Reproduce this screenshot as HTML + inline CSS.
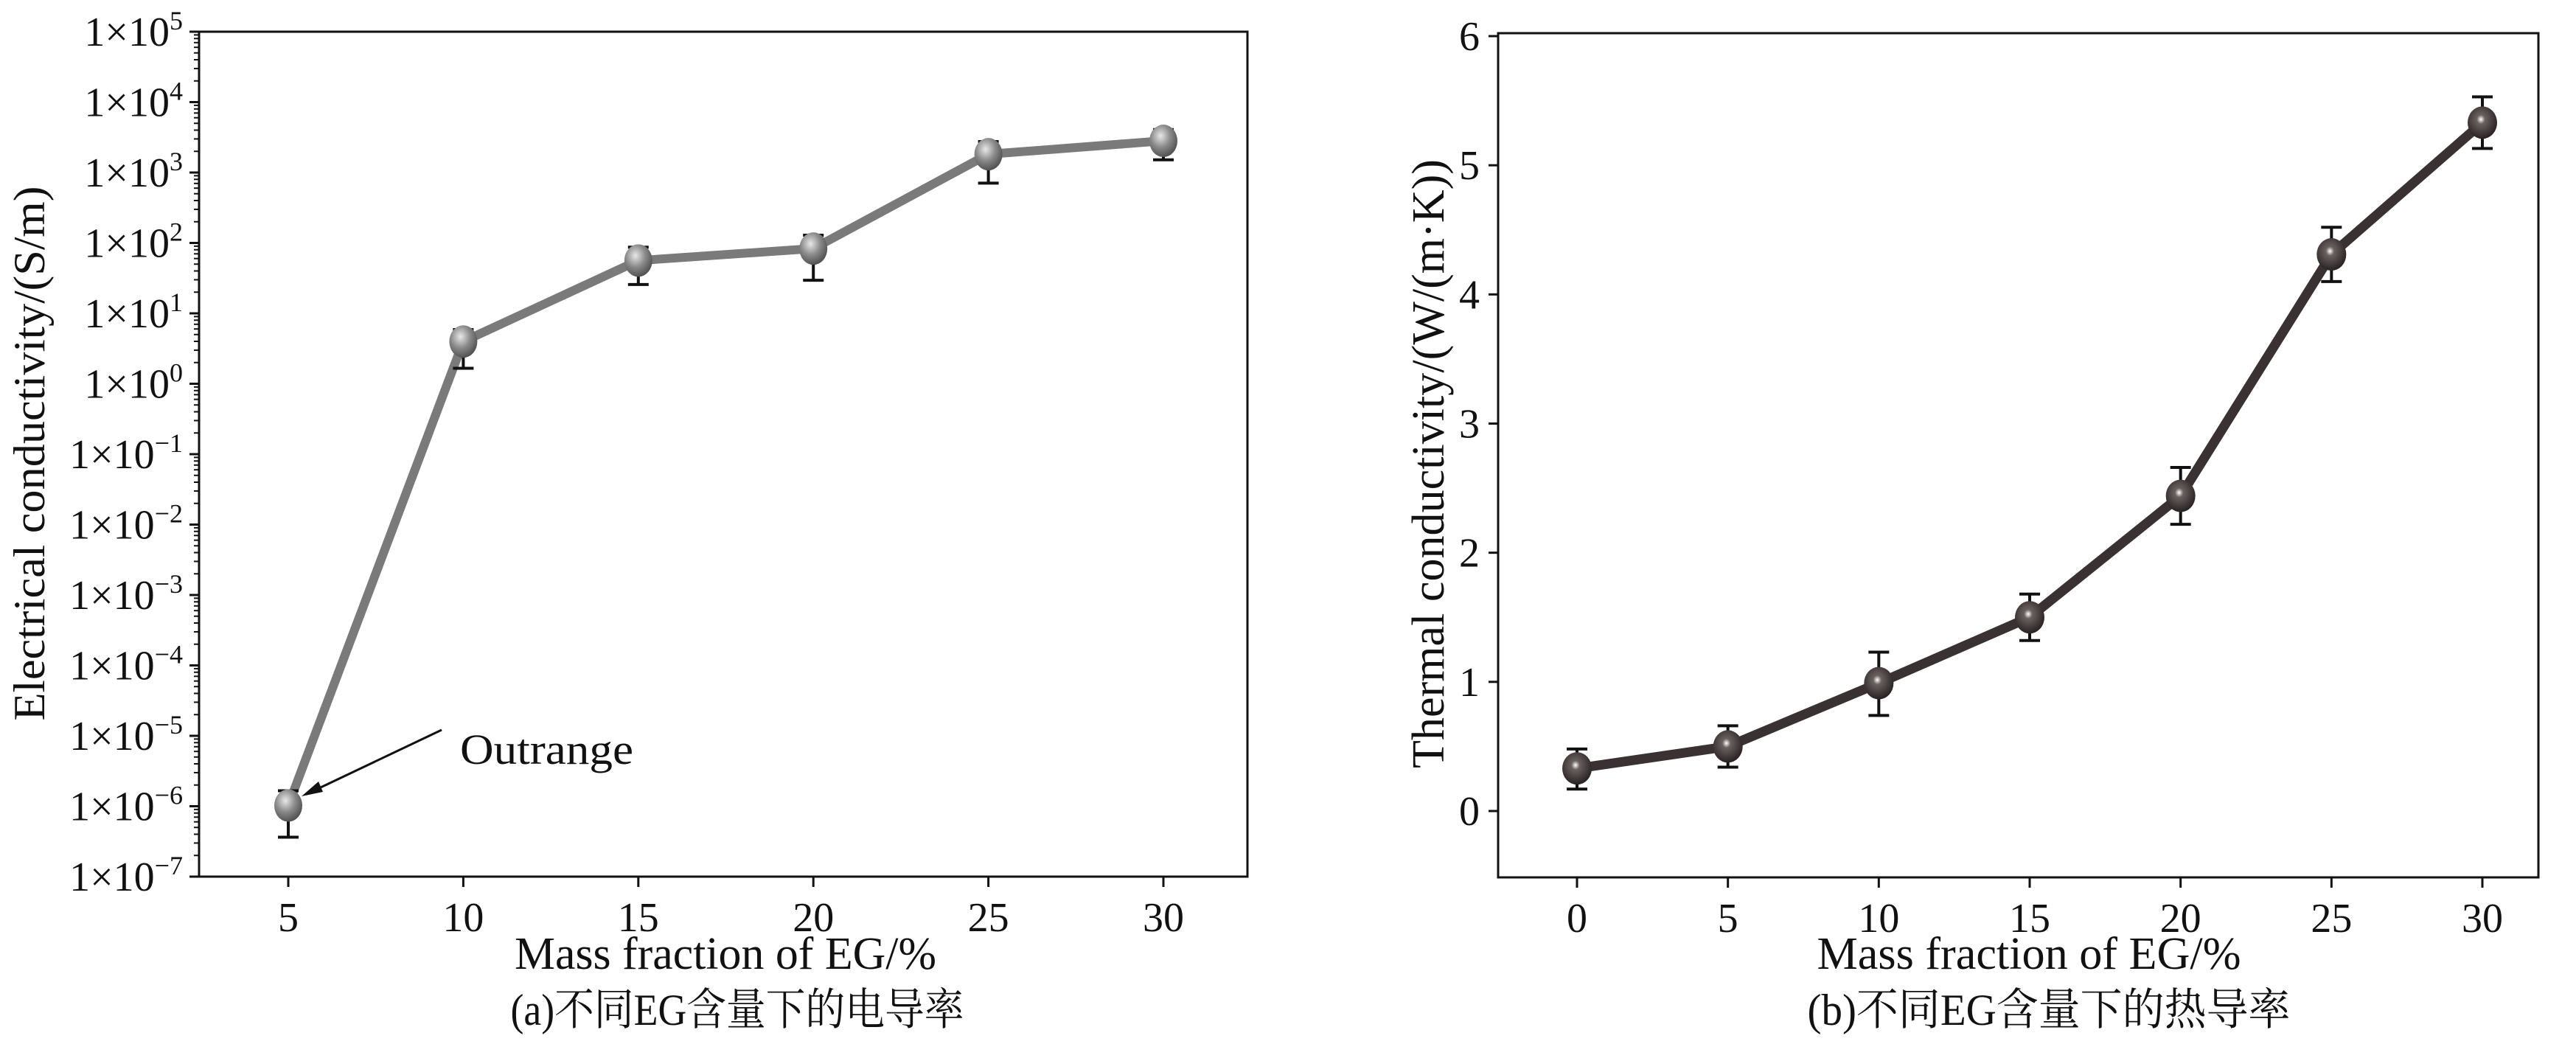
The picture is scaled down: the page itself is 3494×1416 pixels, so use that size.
<!DOCTYPE html>
<html><head><meta charset="utf-8"><style>
html,body{margin:0;padding:0;background:#fff;}
svg text{font-family:"Liberation Serif","Noto Serif CJK SC",serif;fill:#111;}
</style></head><body>
<svg id="fig" width="3494" height="1411" viewBox="0 0 3494 1411" xmlns="http://www.w3.org/2000/svg">
<defs>
<radialGradient id="gGray" cx="0.4" cy="0.35" r="0.7"><stop offset="0" stop-color="#e8e8e8"/><stop offset="0.5" stop-color="#8a8a8a"/><stop offset="1" stop-color="#4a4a4a"/></radialGradient>
<radialGradient id="gDark" cx="0.45" cy="0.4" r="0.7"><stop offset="0" stop-color="#ffffff"/><stop offset="0.2" stop-color="#6a6060"/><stop offset="1" stop-color="#1a1414"/></radialGradient>
</defs>
<g id="plotA"></g>
<g id="plotB"></g>
</svg>
<script>
// Chart (a) data: log10 values
const catsA=[5,10,15,20,25,30];
const logValA=[-5.99,0.6,1.75,1.92,3.26,3.45];
const logHiA=[-5.78,0.77,1.94,2.11,3.44,3.61];
const logLoA=[-6.44,0.22,1.41,1.47,2.85,3.18];
const yExpA=[5,4,3,2,1,0,-1,-2,-3,-4,-5,-6,-7];
// Chart (b) data
const catsB=[0,5,10,15,20,25,30];
const valB=[0.33,0.5,0.99,1.5,2.44,4.31,5.33];
const hiB=[0.48,0.66,1.23,1.68,2.66,4.52,5.53];
const loB=[0.17,0.34,0.74,1.32,2.22,4.10,5.13];
const yTicksB=[0,1,2,3,4,5,6];

const NS="http://www.w3.org/2000/svg";
function mk(parent,tag,attrs,txt){const e=document.createElementNS(NS,tag);for(const k in attrs)e.setAttribute(k,attrs[k]);if(txt!==undefined)e.textContent=txt;parent.appendChild(e);return e;}

// ---------- Plot A ----------
(function(){
const g=document.getElementById('plotA');
const L=270,R=1692,T=43,B=1189;
const xA=v=>391+(v-5)*(1578-391)/25;
const yA=v=>T+(5-v)*(B-T)/12;
let e=mk(g,'rect',{x:L,y:T,width:R-L,height:B-T,fill:'none',stroke:'#111','stroke-width':3});

for(let d=-7;d<=5;d++){
  mk(g,'line',{x1:L-13,x2:L,y1:yA(d),y2:yA(d),stroke:'#111','stroke-width':3});
  if(d<5)for(let m=2;m<=9;m++){const yy=yA(d+Math.log10(m));mk(g,'line',{x1:L-7,x2:L,y1:yy,y2:yy,stroke:'#111','stroke-width':2});}
}
yExpA.forEach(p=>{
  const t=mk(g,'text',{x:L-22,y:yA(p)+19,'text-anchor':'end','font-size':56});
  
  t.textContent='1×10';
  mk(t,'tspan',{dy:-22,'font-size':36},String(p).replace('-','−'));
});
catsA.forEach(c=>{
  mk(g,'line',{x1:xA(c),x2:xA(c),y1:B,y2:B+14,stroke:'#111','stroke-width':3});
  const t=mk(g,'text',{x:xA(c),y:B+74,'text-anchor':'middle','font-size':56},String(c));
  
});
let pts=catsA.map((c,i)=>xA(c)+','+yA(logValA[i])).join(' ');
e=mk(g,'polyline',{points:pts,fill:'none',stroke:'#7a7a7a','stroke-width':12,'stroke-linejoin':'round'});

catsA.forEach((c,i)=>{
  const x=xA(c);
  e=mk(g,'path',{d:`M${x},${yA(logHiA[i])}V${yA(logLoA[i])}M${x-14},${yA(logHiA[i])}H${x+14}M${x-14},${yA(logLoA[i])}H${x+14}`,stroke:'#111','stroke-width':4,fill:'none'});
  
  e=mk(g,'ellipse',{cx:x,cy:yA(logValA[i]),rx:19,ry:22,fill:'url(#gGray)'});
  
});
e=mk(g,'line',{x1:599,y1:990,x2:416,y2:1077,stroke:'#111','stroke-width':3});

mk(g,'path',{d:'M409,1080 L432,1060 L438,1074 Z',fill:'#111'});
e=mk(g,'text',{x:624,y:1036,'font-size':58,textLength:235,lengthAdjust:'spacingAndGlyphs'},'Outrange');

e=mk(g,'text',{x:984,y:1314,'text-anchor':'middle','font-size':62,textLength:572,lengthAdjust:'spacingAndGlyphs'},'Mass fraction of EG/%');

e=mk(g,'text',{x:1000,y:1390,'text-anchor':'middle','font-size':60,textLength:615,lengthAdjust:'spacingAndGlyphs'},'(a)不同EG含量下的电导率');

e=mk(g,'text',{x:0,y:0,'text-anchor':'middle','font-size':60,textLength:725,lengthAdjust:'spacingAndGlyphs',transform:'translate(60,615) rotate(-90)'},'Electrical conductivity/(S/m)');

})();

// ---------- Plot B ----------
(function(){
const g=document.getElementById('plotB');
const L=2032,R=3443,T=45,B=1190;
const xB=v=>2139+v*(3367-2139)/30;
const yB=v=>1100-v*(1100-49)/6;
let e=mk(g,'rect',{x:L,y:T,width:R-L,height:B-T,fill:'none',stroke:'#111','stroke-width':3});

yTicksB.forEach(v=>{
  mk(g,'line',{x1:L-13,x2:L,y1:yB(v),y2:yB(v),stroke:'#111','stroke-width':3});
  const t=mk(g,'text',{x:L-25,y:yB(v)+19,'text-anchor':'end','font-size':56},String(v));
  
});
catsB.forEach(c=>{
  mk(g,'line',{x1:xB(c),x2:xB(c),y1:B,y2:B+14,stroke:'#111','stroke-width':3});
  const t=mk(g,'text',{x:xB(c),y:B+74,'text-anchor':'middle','font-size':56},String(c));
  
});
let pts=catsB.map((c,i)=>xB(c)+','+yB(valB[i])).join(' ');
e=mk(g,'polyline',{points:pts,fill:'none',stroke:'#3a3232','stroke-width':13,'stroke-linejoin':'round'});

catsB.forEach((c,i)=>{
  const x=xB(c);
  e=mk(g,'path',{d:`M${x},${yB(hiB[i])}V${yB(loB[i])}M${x-14},${yB(hiB[i])}H${x+14}M${x-14},${yB(loB[i])}H${x+14}`,stroke:'#111','stroke-width':4,fill:'none'});
  
  e=mk(g,'ellipse',{cx:x,cy:yB(valB[i]),rx:20,ry:22,fill:'url(#gDark)'});
  
});
e=mk(g,'text',{x:2752,y:1314,'text-anchor':'middle','font-size':62,textLength:575,lengthAdjust:'spacingAndGlyphs'},'Mass fraction of EG/%');

e=mk(g,'text',{x:2779,y:1390,'text-anchor':'middle','font-size':60,textLength:655,lengthAdjust:'spacingAndGlyphs'},'(b)不同EG含量下的热导率');

e=mk(g,'text',{x:0,y:0,'text-anchor':'middle','font-size':62,textLength:826,lengthAdjust:'spacingAndGlyphs',transform:'translate(1958,629) rotate(-90)'},'Thermal conductivity/(W/(m·K))');

})();
</script>
</body></html>
